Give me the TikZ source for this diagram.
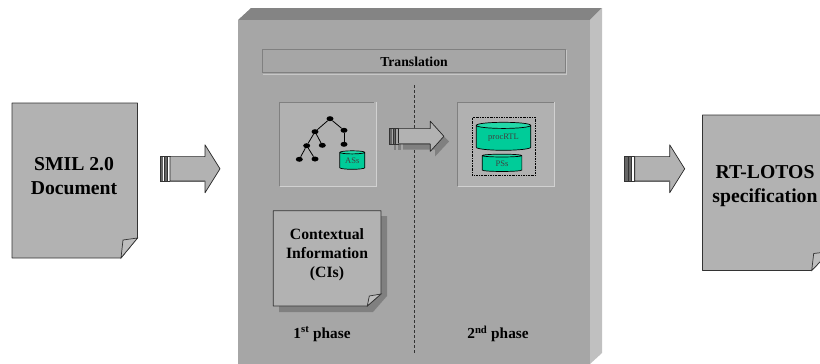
\documentclass[tikz,border=0pt]{standalone}
\usepackage{fontspec}
\setmainfont{Liberation Serif}
\usetikzlibrary{shapes.geometric}

\definecolor{topface}{HTML}{848484}
\definecolor{frontface}{HTML}{A6A6A6}
\definecolor{sideface}{HTML}{C0C0C0}
\definecolor{paper}{HTML}{B2B2B2}
\definecolor{db}{HTML}{00CC99}
\definecolor{dbtop}{HTML}{22D8A8}

\tikzset{
  label18/.style={font=\fontsize{19.7}{24}\selectfont\bfseries, align=center},
  label16/.style={font=\fontsize{15.7}{19.2}\selectfont\bfseries, align=center},
  label14/.style={font=\fontsize{15.3}{18}\selectfont\bfseries},
  treenode/.style={ellipse, fill=black, inner sep=0pt, minimum width=7pt, minimum height=5pt},
  store/.style={cylinder, shape border rotate=90, draw=black, line width=.7pt, aspect=.22,
    cylinder uses custom fill, cylinder body fill=db, cylinder end fill=dbtop, inner sep=0pt,
    font=\fontsize{8.5}{9}\selectfont, text=black!75},
  sheet/.style={draw=black!80, line width=.7pt, fill=paper},
  panel/.style={fill=paper!93!frontface}
}

% sheet with a turned corner: x1,y1,x2,y2, fold size x, fold size y
\newcommand{\sheet}[6]{
  \draw[sheet, line join=round] (#1,#2) -- (#3,#2) -- (#3,#4-#6) -- (#3-#5,#4) -- (#1,#4) -- cycle;
  \draw[sheet, fill=paper!85!white] (#3,#4-#6) -- (#3-#5+2,#4-#6+2) -- (#3-#5,#4) -- cycle;
}
% fat arrow with stripes at its tail
\newcommand{\fatarrow}[4]{
  \begin{scope}[shift={(#1,#2)}, xscale=#3, yscale=#4]
    \fill[black!60] (0,-12.2) rectangle (3,12.2);
    \fill[black!60] (4,-12.2) rectangle (7,12.2);
    \draw[black!80, line width=.5pt] (0,-12.2) rectangle (10,12.2);
    \draw[black!80, line width=.5pt] (4,-12.2) -- (4,12.2) (7,-12.2) -- (7,12.2);
    \draw[black!85, line width=.7pt, fill=paper, line join=round] (10,-12.2) -- (45,-12.2) -- (45,-24) -- (60,0) -- (45,24) -- (45,12.2) -- (10,12.2) -- cycle;
    \draw[black!60, line width=1pt] (10,12.2) -- (45,12.2);
  \end{scope}
}

\begin{document}
\begin{tikzpicture}[x=1pt, y=-1pt]
  \clip (0,0) rectangle (820,364);

  % block in the middle
  \fill[topface] (238,20) -- (251,8) -- (602,8) -- (590,20) -- cycle;
  \fill[sideface] (590,20) -- (602,8) -- (602,353) -- (590,364) -- cycle;
  \fill[frontface] (238,20) rectangle (590,364);

  % title bar
  \draw[black!50, line width=.8pt] (262.5,73) -- (262.5,49.5) -- (566,49.5);
  \draw[black!22, line width=.8pt] (566,49.5) -- (566,74) -- (262.5,74);
  \draw[black!50, line width=.5pt] (263,72) -- (565,72) -- (565,50);
  \node[font=\fontsize{13.7}{16}\selectfont\bfseries] (translation) at (414,62) {Translation};

  % phases
  \coordinate (sepTop) at (414,85);
  \coordinate (sepBottom) at (414,354);
  \draw[dashed, black!80, line width=.6pt, dash pattern=on 3pt off 2pt] (sepTop) -- (sepBottom);

  \fill[panel] (279,102) rectangle (376,186);
  \draw[black!50, line width=.9pt] (279,186) -- (279,102) -- (374,102);
  \draw[black!18, line width=.7pt] (376,102) -- (376,186) -- (280,186);
  \fill[panel] (457,102) rectangle (554,186);
  \draw[black!50, line width=.7pt] (457,186) -- (457,102) -- (554,102);
  \draw[black!18, line width=.7pt] (554,102) -- (554,186) -- (458,186);

  % tree
  \node[treenode] (root) at (330,118.7) {};
  \node[treenode] (left) at (315,131.7) {};
  \node[treenode] (right) at (344,130.3) {};
  \node[treenode] (leftA) at (306.7,145.7) {};
  \node[treenode] (leftB) at (322.3,145.3) {};
  \node[treenode] (rightA) at (344,144.3) {};
  \node[treenode] (leafA) at (299.3,159.3) {};
  \node[treenode] (leafB) at (315,159) {};
  \foreach \a/\b in {root/left, root/right, left/leftA, left/leftB, right/rightA, leftA/leafA, leftA/leafB}
    \draw[line width=.8pt] (\a) -- (\b);

  \node[store, minimum width=25pt, minimum height=18.5pt] (ass) at (352.3,161) {ASs};

  \draw[dash pattern=on 2pt off 1pt on .7pt off 1pt, line width=.7pt] (472.3,117.7) rectangle (535.7,175.3);
  \node[store, minimum width=54.5pt, minimum height=28pt, aspect=.2] (procrtl) at (503.5,138) {procRTL};
  \node[store, minimum width=39.7pt, minimum height=17.3pt] (pss) at (502,163.7) {PSs};

  % context note
  \fill[black!50] (279,216) -- (387,216) -- (387,296) -- (373,312) -- (279,312) -- cycle;
  \sheet{273.3}{210.7}{381}{306}{13.7}{12}
  \node[label16] (cis) at (327,255) {Contextual\\Information\\(CIs)};

  \node[label14] (first) at (322,334) {1\textsuperscript{st} phase};
  \node[label14] (second) at (498,334) {2\textsuperscript{nd} phase};

  % middle arrow with its shadow
  \fill[black!50] (394,133) rectangle (396,150);
  \fill[black!50] (398,133) rectangle (401,150);
  \fill[black!50] (403,133) -- (435,133) -- (435,127) -- (449,141.5) -- (435,156.5) -- (435,149.5) -- (403,149.5) -- cycle;
  \fatarrow{389.3}{136.3}{.91}{.63}

  % outer sheets
  \sheet{12}{103}{137.5}{258}{16.5}{20}
  \node[label18] (smil) at (74,176) {SMIL 2.0\\Document};
  \sheet{702.5}{115}{830}{270.5}{18.3}{19}
  \node[label18] (rtlotos) at (765,186) {RT-LOTOS\\specification};

  \fatarrow{160}{168.8}{1}{1}
  \fatarrow{624.7}{168.8}{1}{1}
\end{tikzpicture}
\end{document}
